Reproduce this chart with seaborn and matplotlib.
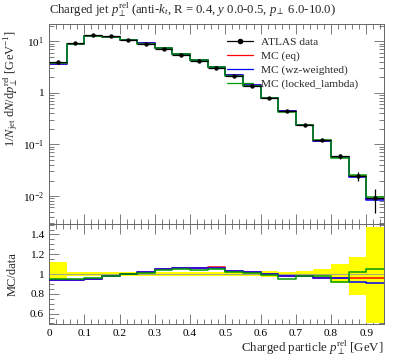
import numpy as np
import pandas as pd
import matplotlib
matplotlib.use("Agg")
import matplotlib.pyplot as plt
import seaborn as sns
from matplotlib.lines import Line2D
from matplotlib.ticker import MultipleLocator, LogLocator, FuncFormatter, NullFormatter

# ---------------- data ----------------
bin_edges = [0.0, 0.05, 0.10, 0.15, 0.20, 0.25, 0.30, 0.35, 0.40, 0.45, 0.50,
             0.55, 0.60, 0.65, 0.70, 0.75, 0.80, 0.85, 0.90, 0.95]
data_vals = [3.9, 9.3, 13.1, 12.5, 10.7, 8.9, 7.0, 5.4, 4.1, 3.0, 2.12,
             1.36, 0.80, 0.45, 0.24, 0.123, 0.0585, 0.025, 0.0093]
data_err_up = [0.12, 0.02, 0.02, 0.02, 0.02, 0.02, 0.02, 0.02, 0.02, 0.02, 0.02,
               0.02, 0.03, 0.025, 0.035, 0.05, 0.10, 0.17, 0.48]   # relative
data_err_dn = [0.05, 0.02, 0.02, 0.02, 0.02, 0.02, 0.02, 0.02, 0.02, 0.02, 0.02,
               0.02, 0.03, 0.025, 0.03, 0.04, 0.09, 0.21, 0.50]    # relative
mc_eq = [3.67, 8.74, 12.45, 12.25, 10.7, 9.08, 7.32, 5.72, 4.33, 3.2, 2.18,
         1.39, 0.796, 0.443, 0.234, 0.118, 0.0562, 0.024, 0.00888]
mc_wz = [3.65, 8.70, 12.45, 12.19, 10.7, 9.08, 7.35, 5.72, 4.33, 3.18, 2.18,
         1.39, 0.796, 0.439, 0.234, 0.118, 0.0559, 0.023, 0.00846]
mc_locked = [3.71, 8.84, 12.51, 12.31, 10.65, 9.03, 7.28, 5.67, 4.26, 3.14, 2.16,
             1.38, 0.792, 0.425, 0.234, 0.120, 0.0538, 0.0254, 0.00977]
series_names = ["MC (eq)", "MC (wz-weighted)", "MC (locked_lambda)"]
series_colors = ["#ff0000", "#0000ff", "#009900"]

title = r"Charged jet $p_\perp^{\rm rel}$ (anti-$k_t$, R = 0.4, $y$ 0.0-0.5, $p_\perp$ 6.0-10.0)"
ylabel_main = r"$1/N_{\rm jet}\ {\rm d}N/{\rm d}p_\perp^{\rm rel}$ [GeV$^{-1}$]"
ylabel_ratio = "MC/data"
xlabel = r"Charged particle $p_\perp^{\rm rel}$ [GeV]"

# ---------------- style ----------------
sns.set_theme(style="ticks")
plt.rcParams["font.family"] = ["Liberation Serif", "DejaVu Serif"]
plt.rcParams["mathtext.fontset"] = "custom"
plt.rcParams["mathtext.rm"] = "Liberation Serif"
plt.rcParams["mathtext.it"] = "Liberation Serif:italic"
plt.rcParams["mathtext.bf"] = "Liberation Serif:bold"

edges = np.array(bin_edges)
centers = 0.5 * (edges[:-1] + edges[1:])
halfw = 0.5 * np.diff(edges)
data = np.array(data_vals)
eup = np.array(data_err_up)
edn = np.array(data_err_dn)

fig = plt.figure(figsize=(3.97, 3.58), dpi=100)
axm = fig.add_axes([49 / 397, 1 - 224 / 358, 335 / 397, 200 / 358])
axr = fig.add_axes([49 / 397, 1 - 324 / 358, 335 / 397, 100 / 358], sharex=axm)

def step_frame(vals):
    return pd.DataFrame({"x": edges, "y": np.append(vals, vals[-1])})

# ---- main panel ----
for vals, name, col in zip([mc_eq, mc_wz, mc_locked], series_names, series_colors):
    sns.lineplot(data=step_frame(np.array(vals)), x="x", y="y", ax=axm,
                 drawstyle="steps-post", color=col, lw=1.1, estimator=None,
                 sort=False, legend=False)

axm.errorbar(centers, data, xerr=halfw, yerr=[data * edn, data * eup],
             fmt="none", ecolor="black", elinewidth=0.9, capsize=0, zorder=5)
sns.scatterplot(x=centers, y=data, ax=axm, color="black", s=10, edgecolor="black",
                linewidth=0, zorder=6, legend=False)
axm.set_yscale("log")
axm.set_xlim(0, 0.95)
axm.set_ylim(0.00287, 21.6)

# legend
hd = Line2D([], [], color="black", lw=0.9, marker="o", ms=3)
h_mc = [Line2D([], [], color=c, lw=0.9) for c in series_colors]
axm.legend([hd] + h_mc, ["ATLAS data"] + series_names, loc="upper left",
           bbox_to_anchor=(0.532, 0.935), frameon=False, fontsize=8.2,
           handlelength=2.3, handletextpad=0.7, labelspacing=0.33,
           borderaxespad=0, borderpad=0)

# ---- ratio panel ----
rx = edges
up = np.append(1 + eup, 1 + eup[-1])
dn = np.append(1 - edn, 1 - edn[-1])
axr.fill_between(rx, dn, up, step="post", color="#ffff00", lw=0, zorder=1)
axr.plot(rx, np.ones_like(rx), color="#999999", lw=0.6, zorder=2)
for vals, col in zip([mc_eq, mc_wz, mc_locked], series_colors):
    ratio = np.array(vals) / data
    sns.lineplot(data=step_frame(ratio), x="x", y="y", ax=axr,
                 drawstyle="steps-post", color=col, lw=1.1, estimator=None,
                 sort=False, legend=False, zorder=3)
axr.set_ylim(0.494, 1.506)
axr.set_xlim(0, 0.95)

# ---- ticks / axes ----
spine_col = "#666666"
for ax in (axm, axr):
    for s in ax.spines.values():
        s.set_color(spine_col)
        s.set_linewidth(0.7)
    ax.tick_params(which="both", direction="in", top=True, right=True,
                   color=spine_col, width=0.6, labelsize=8.2, labelcolor="black")
    ax.tick_params(which="major", length=7)
    ax.tick_params(which="minor", length=3.5)
    ax.xaxis.set_major_locator(MultipleLocator(0.1))
    ax.xaxis.set_minor_locator(MultipleLocator(0.02))

axm.yaxis.set_major_locator(LogLocator(base=10, numticks=10))
axm.yaxis.set_minor_locator(LogLocator(base=10, subs=np.arange(2, 10), numticks=10))
axm.yaxis.set_minor_formatter(NullFormatter())

def logfmt(v, pos):
    e = int(round(np.log10(v)))
    if e == 0:
        return "1"
    return r"$10^{%d}$" % e
axm.yaxis.set_major_formatter(FuncFormatter(logfmt))
axm.tick_params(axis="x", labelbottom=False)

axr.yaxis.set_major_locator(MultipleLocator(0.2))
axr.yaxis.set_minor_locator(MultipleLocator(0.05))
axr.yaxis.set_major_formatter(FuncFormatter(lambda v, p: "1" if abs(v - 1) < 1e-9 else ("%.1f" % v)))
axr.xaxis.set_major_formatter(FuncFormatter(lambda v, p: "0" if abs(v) < 1e-9 else ("%.1f" % v)))

axm.set_xlabel("")
axm.set_ylabel(ylabel_main, fontsize=9, loc="top")
axm.yaxis.set_label_coords(-0.088, 0.97)
axr.set_ylabel(ylabel_ratio, fontsize=9)
axr.yaxis.set_label_coords(-0.09, 0.5)
axr.set_xlabel(xlabel, fontsize=9.3, loc="right", labelpad=1)

fig.text(49 / 397, 1 - 10 / 358, title, ha="left", va="center", fontsize=9.2)

fig.savefig("out.png", dpi=100)
